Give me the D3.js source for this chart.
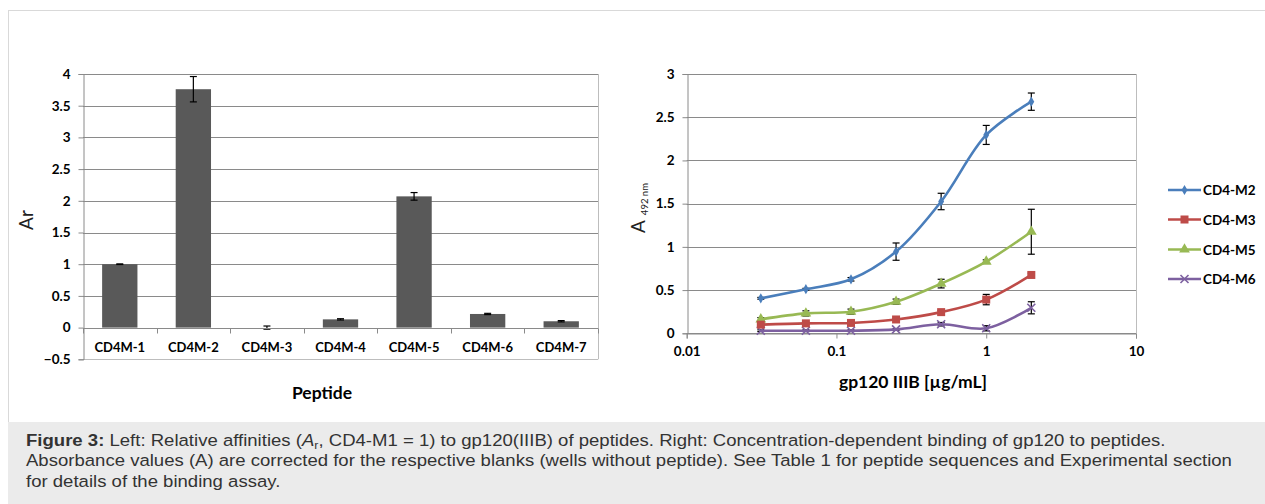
<!DOCTYPE html>
<html><head><meta charset="utf-8">
<script src="https://cdn.jsdelivr.net/npm/d3@7/dist/d3.min.js"></script>
<style>
body{margin:0;background:#fff;}
svg{display:block;}
</style></head><body>
<svg id="c" width="1265" height="504"></svg>
<script>
// ---------- data ----------
const peptides = ["CD4M-1","CD4M-2","CD4M-3","CD4M-4","CD4M-5","CD4M-6","CD4M-7"];
const arValues = [1.0, 3.76, 0.0, 0.13, 2.07, 0.215, 0.10];
const arErrors = [0.005, 0.2, 0.025, 0.01, 0.06, 0.01, 0.01];
const arTicks = [-0.5, 0, 0.5, 1, 1.5, 2, 2.5, 3, 3.5, 4];

const concentrations = [0.03125, 0.0625, 0.125, 0.25, 0.5, 1, 2];
const seriesNames = ["CD4-M2", "CD4-M3", "CD4-M5", "CD4-M6"];
const m2Values = [0.405, 0.51, 0.625, 0.945, 1.525, 2.295, 2.68];
const m2Errors = [0.01, 0.01, 0.02, 0.1, 0.095, 0.11, 0.1];
const m3Values = [0.10, 0.115, 0.12, 0.16, 0.245, 0.39, 0.675];
const m3Errors = [0.01, 0.01, 0.01, 0.01, 0.02, 0.06, 0.02];
const m5Values = [0.162, 0.23, 0.25, 0.366, 0.575, 0.83, 1.175];
const m5Errors = [0.02, 0.03, 0.03, 0.03, 0.05, 0.02, 0.26];
const m6Values = [0.03, 0.03, 0.03, 0.045, 0.105, 0.058, 0.295];
const m6Errors = [0.01, 0.01, 0.01, 0.01, 0.02, 0.03, 0.07];
const absTicks = [0, 0.5, 1, 1.5, 2, 2.5, 3];
const concTicks = [0.01, 0.1, 1, 10];
const concTickLabels = ["0.01", "0.1", "1", "10"];

const seriesColors = ["#4a7ebb", "#be4b48", "#98b954", "#7d60a0"];
const seriesMarkers = ["diamond", "square", "triangle", "cross"];

// ---------- setup ----------
const svg = d3.select("#c");
const FONT = "Lato, 'Open Sans', sans-serif";
const GRID = "#8a8a8a";
const BORDER = "#bdbdbd";
const TICKFS = 13.5;

// outer frame
svg.append("line").attr("x1", 8).attr("x2", 1265).attr("y1", 10.5).attr("y2", 10.5).attr("stroke", "#d9d9d9");
svg.append("line").attr("x1", 8.5).attr("x2", 8.5).attr("y1", 10).attr("y2", 422).attr("stroke", "#d9d9d9");

// ---------- left chart ----------
const L = {x0: 83, x1: 598};
const xL = d3.scaleBand().domain(peptides).range([L.x0, L.x1]).paddingInner(0.52).paddingOuter(0.26);
const yL = d3.scaleLinear().domain([-0.5, 4]).range([359.3, 74]);
const gL = svg.append("g");

gL.selectAll("line.grid").data(arTicks).join("line")
  .attr("x1", L.x0).attr("x2", L.x1)
  .attr("y1", d => Math.round(yL(d)) + 0.5).attr("y2", d => Math.round(yL(d)) + 0.5)
  .attr("stroke", d => d === -0.5 ? BORDER : GRID).attr("stroke-width", 1);
gL.append("line").attr("x1", L.x1 + 0.5).attr("x2", L.x1 + 0.5)
  .attr("y1", yL(4)).attr("y2", yL(-0.5)).attr("stroke", BORDER);

const yAxisL = d3.axisLeft(yL).tickValues(arTicks).tickSize(5).tickPadding(8)
  .tickFormat(d => d3.format("")(d));
const yAxG = gL.append("g").attr("transform", `translate(${L.x0 + 0.5},0)`).call(yAxisL);
yAxG.select(".domain").attr("stroke", GRID);
yAxG.selectAll(".tick line").attr("stroke", GRID);
yAxG.selectAll(".tick text").attr("font-family", FONT).attr("font-weight", "bold")
  .attr("font-size", TICKFS).attr("fill", "#000");

const bandEdges = peptides.map(p => xL(p) - xL.step() * xL.paddingInner() / 2).concat([L.x1]);
gL.selectAll("line.xt").data(bandEdges).join("line")
  .attr("x1", d => Math.round(d) + 0.5).attr("x2", d => Math.round(d) + 0.5)
  .attr("y1", Math.round(yL(0)) + 0.5).attr("y2", Math.round(yL(0)) + 5.5).attr("stroke", GRID);
gL.selectAll("text.xl").data(peptides).join("text")
  .attr("x", d => xL(d) + xL.bandwidth() / 2).attr("y", 352)
  .attr("text-anchor", "middle").attr("font-family", FONT).attr("font-weight", "bold")
  .attr("font-size", 13).attr("fill", "#000").text(d => d);

gL.selectAll("rect.bar").data(peptides).join("rect")
  .attr("x", d => xL(d)).attr("width", xL.bandwidth())
  .attr("y", (d, i) => yL(Math.max(0, arValues[i])))
  .attr("height", (d, i) => Math.abs(yL(arValues[i]) - yL(0)))
  .attr("fill", "#595959");

const eL = gL.selectAll("g.err").data(peptides).join("g");
eL.append("line")
  .attr("x1", d => xL(d) + xL.bandwidth() / 2).attr("x2", d => xL(d) + xL.bandwidth() / 2)
  .attr("y1", (d, i) => yL(arValues[i] + arErrors[i])).attr("y2", (d, i) => yL(arValues[i] - arErrors[i]))
  .attr("stroke", "#000").attr("stroke-width", 1.2);
[1, -1].forEach(s => {
  eL.append("line")
    .attr("x1", d => xL(d) + xL.bandwidth() / 2 - 3.5).attr("x2", d => xL(d) + xL.bandwidth() / 2 + 3.5)
    .attr("y1", (d, i) => yL(arValues[i] + s * arErrors[i])).attr("y2", (d, i) => yL(arValues[i] + s * arErrors[i]))
    .attr("stroke", "#000").attr("stroke-width", 1.2);
});
gL.append("line").attr("x1", L.x0).attr("x2", L.x1)
  .attr("y1", Math.round(yL(0)) + 0.5).attr("y2", Math.round(yL(0)) + 0.5).attr("stroke", GRID);

svg.append("text").attr("transform", "translate(33,220) rotate(-90)")
  .attr("text-anchor", "middle").attr("font-family", FONT).attr("font-size", 19)
  .attr("fill", "#222").text("Ar");
svg.append("text").attr("x", 322).attr("y", 399).attr("text-anchor", "middle")
  .attr("font-family", FONT).attr("font-weight", "bold").attr("font-size", 17.5)
  .attr("fill", "#000").text("Peptide");

// ---------- right chart ----------
const R = {x0: 686.7, x1: 1136};
const xR = d3.scaleLog().domain([0.01, 10]).range([R.x0, R.x1]);
const yR = d3.scaleLinear().domain([0, 3]).range([333.3, 74]);
const gR = svg.append("g");

gR.selectAll("line.grid").data(absTicks).join("line")
  .attr("x1", R.x0).attr("x2", R.x1)
  .attr("y1", d => Math.round(yR(d)) + 0.5).attr("y2", d => Math.round(yR(d)) + 0.5)
  .attr("stroke", GRID);
gR.append("line").attr("x1", R.x1 + 0.5).attr("x2", R.x1 + 0.5)
  .attr("y1", yR(3)).attr("y2", yR(0)).attr("stroke", BORDER);

const yAxisR = d3.axisLeft(yR).tickValues(absTicks).tickSize(5).tickPadding(8)
  .tickFormat(d => d3.format("")(d));
const yAxRG = gR.append("g").attr("transform", `translate(${Math.round(R.x0) + 0.5},0)`).call(yAxisR);
yAxRG.select(".domain").attr("stroke", GRID);
yAxRG.selectAll(".tick line").attr("stroke", GRID);
yAxRG.selectAll(".tick text").attr("font-family", FONT).attr("font-weight", "bold")
  .attr("font-size", TICKFS).attr("fill", "#000");

const xAxisR = d3.axisBottom(xR).tickValues(concTicks).tickSize(5).tickPadding(8)
  .tickFormat((d, i) => concTickLabels[i]);
const xAxRG = gR.append("g").attr("transform", `translate(0,${Math.round(yR(0)) + 0.5})`).call(xAxisR);
xAxRG.select(".domain").attr("stroke", GRID);
xAxRG.selectAll(".tick line").attr("stroke", GRID);
xAxRG.selectAll(".tick text").attr("font-family", FONT).attr("font-weight", "bold")
  .attr("font-size", TICKFS).attr("fill", "#000");

const yt = svg.append("text").attr("transform", "translate(645,233) rotate(-90)")
  .attr("font-family", FONT).attr("fill", "#222");
yt.append("tspan").attr("font-size", 19).text("A");
yt.append("tspan").attr("font-size", 9.5).attr("dx", 5).attr("dy", 3).text("492 nm");
svg.append("text").attr("x", 913).attr("y", 388).attr("text-anchor", "middle")
  .attr("font-family", FONT).attr("font-weight", "bold").attr("font-size", 17.5)
  .attr("fill", "#000").text("gp120 IIIB [µg/mL]");

const allValues = [m2Values, m3Values, m5Values, m6Values];
const allErrors = [m2Errors, m3Errors, m5Errors, m6Errors];

function drawMarker(g, type, color, x, y) {
  if (type === "diamond") {
    g.append("path").attr("d", d3.symbol(d3.symbolDiamond, 30)()).attr("transform", `translate(${x},${y})`).attr("fill", color);
  } else if (type === "square") {
    g.append("rect").attr("x", x - 4).attr("y", y - 4).attr("width", 8).attr("height", 8).attr("fill", color);
  } else if (type === "triangle") {
    g.append("path").attr("d", d3.symbol(d3.symbolTriangle, 50)()).attr("transform", `translate(${x},${y})`).attr("fill", color);
  } else {
    g.append("path").attr("d", `M${x - 4},${y - 4}L${x + 4},${y + 4}M${x - 4},${y + 4}L${x + 4},${y - 4}`)
      .attr("stroke", color).attr("stroke-width", 1.6).attr("fill", "none");
  }
}

const line = d3.line().curve(d3.curveCatmullRom.alpha(0.5));
[3, 2, 1, 0].forEach(si => {
  const vals = allValues[si], errs = allErrors[si];
  const g = gR.append("g");
  const pts = concentrations.map((c, i) => [xR(c), yR(vals[i])]);
  concentrations.forEach((c, i) => {
    const x = xR(c);
    g.append("line").attr("x1", x).attr("x2", x).attr("y1", yR(vals[i] + errs[i])).attr("y2", yR(vals[i] - errs[i]))
      .attr("stroke", "#000").attr("stroke-width", 1.2);
    [1, -1].forEach(s => {
      g.append("line").attr("x1", x - 3.5).attr("x2", x + 3.5)
        .attr("y1", yR(vals[i] + s * errs[i])).attr("y2", yR(vals[i] + s * errs[i]))
        .attr("stroke", "#000").attr("stroke-width", 1.2);
    });
  });
  g.append("path").attr("d", line(pts)).attr("fill", "none")
    .attr("stroke", seriesColors[si]).attr("stroke-width", 2.6);
  pts.forEach(p => drawMarker(g, seriesMarkers[si], seriesColors[si], p[0], p[1]));
});

const legY = [190, 219.5, 249.5, 279];
seriesNames.forEach((n, i) => {
  const g = svg.append("g");
  g.append("line").attr("x1", 1168).attr("x2", 1201).attr("y1", legY[i]).attr("y2", legY[i])
    .attr("stroke", seriesColors[i]).attr("stroke-width", 2.6);
  drawMarker(g, seriesMarkers[i], seriesColors[i], 1184.5, legY[i]);
  g.append("text").attr("x", 1203).attr("y", legY[i] + 5).attr("font-family", FONT)
    .attr("font-weight", "bold").attr("font-size", TICKFS).attr("fill", "#000").text(n);
});

// ---------- caption ----------
svg.append("rect").attr("x", 8).attr("y", 422).attr("width", 1257).attr("height", 82).attr("fill", "#ebebeb");
const CF = "'Liberation Sans', Arial, sans-serif";
const cap = svg.append("g").attr("transform", "translate(26,0) scale(1.125,1)")
  .attr("font-family", CF).attr("font-size", 16.5).attr("fill", "#333");
const t1 = cap.append("text").attr("x", 0).attr("y", 446);
t1.append("tspan").attr("font-weight", "bold").text("Figure 3:");
t1.append("tspan").text(" Left: Relative affinities (");
t1.append("tspan").attr("font-style", "italic").text("A");
t1.append("tspan").attr("font-size", 11).attr("dy", 3).text("r");
t1.append("tspan").attr("dy", -3).text(", CD4-M1 = 1) to gp120(IIIB) of peptides. Right: Concentration-dependent binding of gp120 to peptides.");
cap.append("text").attr("x", 0).attr("y", 466.5)
  .text("Absorbance values (A) are corrected for the respective blanks (wells without peptide). See Table 1 for peptide sequences and Experimental section");
cap.append("text").attr("x", 0).attr("y", 487).text("for details of the binding assay.");
</script>
</body></html>
